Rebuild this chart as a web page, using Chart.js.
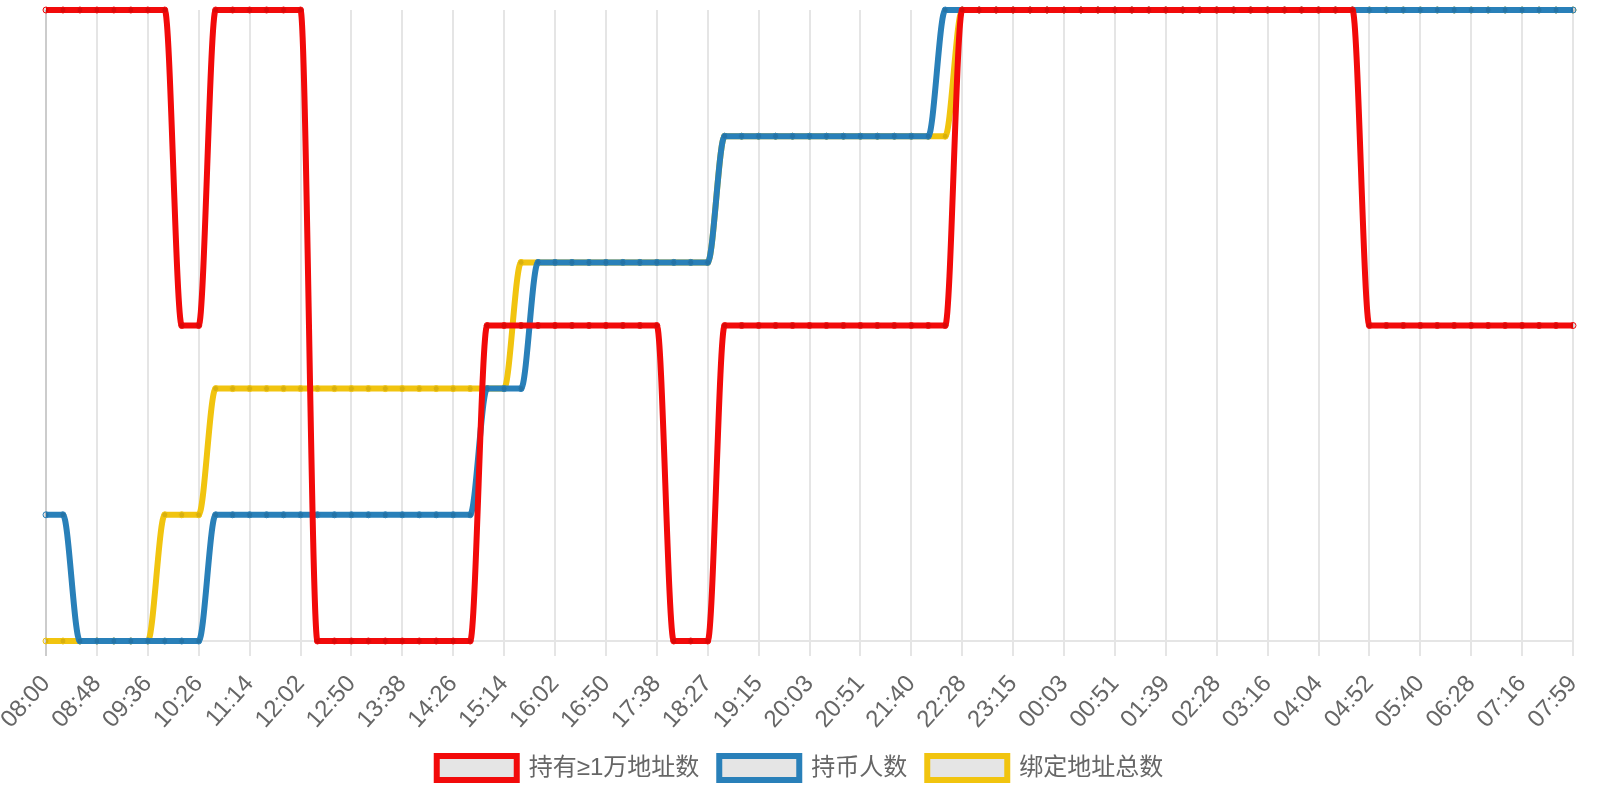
<!DOCTYPE html>
<html>
<head>
<meta charset="utf-8">
<script src="https://cdn.jsdelivr.net/npm/chart.js@4.4.1/dist/chart.umd.min.js"></script>
<style>
  html, body { margin: 0; padding: 0; background: #fff; }
  #wrap { width: 1600px; height: 800px; position: relative; }
</style>
</head>
<body>
<div id="wrap"><canvas id="chart"></canvas></div>
<script>
// tijdstippen (x-as), om de 3 punten staat er een label
const timeLabels = [
  '08:00','08:16','08:32','08:48','09:04','09:20','09:36','09:53','10:09',
  '10:26','10:42','10:58','11:14','11:30','11:46','12:02','12:18','12:34',
  '12:50','13:06','13:22','13:38','13:54','14:10','14:26','14:42','14:58',
  '15:14','15:30','15:46','16:02','16:18','16:34','16:50','17:06','17:22',
  '17:38','17:54','18:11','18:27','18:43','18:59','19:15','19:31','19:47',
  '20:03','20:19','20:35','20:51','21:07','21:24','21:40','21:56','22:12',
  '22:28','22:44','22:59','23:15','23:31','23:47','00:03','00:19','00:35',
  '00:51','01:07','01:23','01:39','01:55','02:12','02:28','02:44','03:00',
  '03:16','03:32','03:48','04:04','04:20','04:36','04:52','05:08','05:24',
  '05:40','05:56','06:12','06:28','06:44','07:00','07:16','07:30','07:45',
  '07:59'
];

const seriesNames = ['持有≥1万地址数', '持币人数', '绑定地址总数'];

// 持有≥1万地址数
const bigHolders = [
  7,7,7,7,7,7,7,7,6,6,
  7,7,7,7,7,7,5,5,5,5,
  5,5,5,5,5,5,6,6,6,6,
  6,6,6,6,6,6,6,5,5,5,
  6,6,6,6,6,6,6,6,6,6,
  6,6,6,6,7,7,7,7,7,7,
  7,7,7,7,7,7,7,7,7,7,
  7,7,7,7,7,7,7,7,6,6,
  6,6,6,6,6,6,6,6,6,6,
  6
];

// 持币人数
const holders = [
  327,327,326,326,326,326,326,326,326,326,
  327,327,327,327,327,327,327,327,327,327,
  327,327,327,327,327,327,328,328,328,329,
  329,329,329,329,329,329,329,329,329,329,
  330,330,330,330,330,330,330,330,330,330,
  330,330,330,331,331,331,331,331,331,331,
  331,331,331,331,331,331,331,331,331,331,
  331,331,331,331,331,331,331,331,331,331,
  331,331,331,331,331,331,331,331,331,331,
  331
];

// 绑定地址总数
const boundAddresses = [
  512,512,512,512,512,512,512,513,513,513,
  514,514,514,514,514,514,514,514,514,514,
  514,514,514,514,514,514,514,514,515,515,
  515,515,515,515,515,515,515,515,515,515,
  516,516,516,516,516,516,516,516,516,516,
  516,516,516,516,517,517,517,517,517,517,
  517,517,517,517,517,517,517,517,517,517,
  517,517,517,517,517,517,517,517,517,517,
  517,517,517,517,517,517,517,517,517,517,
  517
];

const lineColors = ['#f20a0a', '#2980b9', '#f1c40f'];

Chart.defaults.font.family = "'Liberation Sans', Arial, 'Noto Sans CJK SC', sans-serif";
Chart.defaults.color = '#666';

function lineSet(i, data, axis) {
  return {
    label: seriesNames[i],
    data: data,
    yAxisID: axis,
    borderColor: lineColors[i],
    backgroundColor: 'rgba(0,0,0,0.1)',
    borderWidth: 6,
    pointRadius: 3,
    pointBorderWidth: 1,
    pointBackgroundColor: 'rgba(0,0,0,0.1)',
    pointBorderColor: lineColors[i],
    cubicInterpolationMode: 'monotone',
    clip: 8,
    fill: false
  };
}

new Chart(document.getElementById('chart'), {
  type: 'line',
  data: {
    labels: timeLabels,
    datasets: [
      lineSet(0, bigHolders, 'yBig'),
      lineSet(1, holders, 'yHolders'),
      lineSet(2, boundAddresses, 'yBound')
    ]
  },
  options: {
    responsive: true,
    maintainAspectRatio: false,
    animation: false,
    layout: { padding: { top: 10, right: 0, bottom: 10, left: 0 } },
    scales: {
      x: {
        grid: {
          color: c => c.index === 0 ? 'rgba(0,0,0,0.2)' : 'rgba(0,0,0,0.1)',
          lineWidth: 2,
          tickLength: 15
        },
        border: { color: 'rgba(0,0,0,0.1)', width: 2 },
        ticks: {
          autoSkip: false, minRotation: 48, maxRotation: 48, padding: 14,
          font: { size: 24 }, color: '#666'
        },
        afterBuildTicks: axis => {
          axis.ticks = axis.ticks.filter((t, i) => i % 3 === 0);
        },
        // zelfde ruimte rond de as als in het voorbeeld
        afterFit: axis => {
          axis.paddingLeft = 46;
          axis.paddingRight = 27;
          axis.height = 95;
        }
      },
      yBig: { display: false, min: Math.min(...bigHolders), max: Math.max(...bigHolders) },
      yHolders: { display: false, min: Math.min(...holders), max: Math.max(...holders) },
      yBound: { display: false, min: Math.min(...boundAddresses), max: Math.max(...boundAddresses) }
    },
    plugins: {
      legend: {
        position: 'bottom',
        labels: { boxWidth: 80, boxHeight: 24, padding: 20, font: { size: 24 }, color: '#666' }
      },
      tooltip: { enabled: false }
    }
  }
});
</script>
</body>
</html>
